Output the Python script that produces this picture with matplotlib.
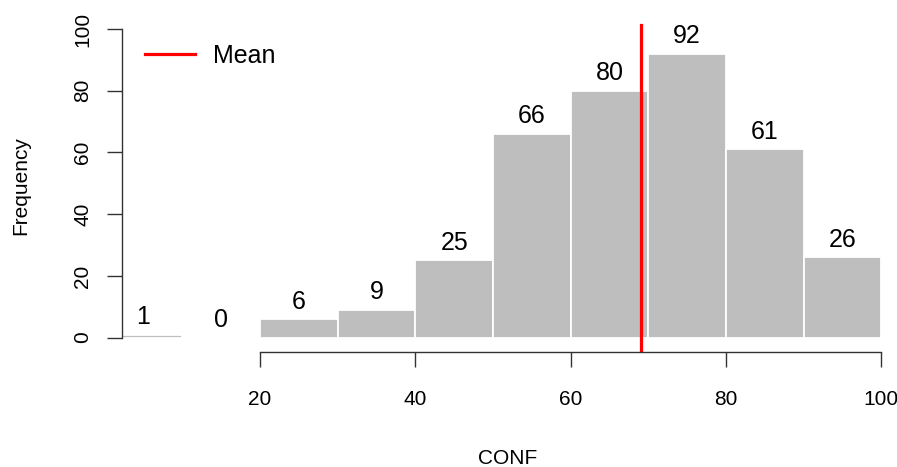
import matplotlib

matplotlib.use("Agg")
import matplotlib.pyplot as plt
import numpy as np

# histogram of CONF, bins of width 10
bin_edges = [0, 10, 20, 30, 40, 50, 60, 70, 80, 90, 100]
counts = [1, 0, 6, 9, 25, 66, 80, 92, 61, 26]
mean_conf = 69.0
x_ticks = [20, 40, 60, 80, 100]
y_ticks = [0, 20, 40, 60, 80, 100]

BAR = "#bebebe"
TEXT = "#000000"
AXIS = "#333333"


def main() -> None:
    plt.rcParams["font.family"] = ["Liberation Sans", "DejaVu Sans"]

    W, H = 897, 467
    fig = plt.figure(figsize=(W / 100, H / 100), dpi=100)
    # axes placed in pixel terms to follow the R plot region
    left, right, top, bottom = 122, 893, 20, 351.5
    ax = fig.add_axes(
        [left / W, (H - bottom) / H, (right - left) / W, (bottom - top) / H]
    )

    edges = np.array(bin_edges, dtype=float)
    widths = np.diff(edges)
    ax.bar(
        edges[:-1],
        counts,
        width=widths,
        align="edge",
        color=BAR,
        edgecolor="white",
        linewidth=1.3,
    )
    for x0, w, c in zip(edges[:-1], widths, counts):
        ax.annotate(
            str(c),
            (x0 + w / 2, c),
            xytext=(0, 4),
            textcoords="offset points",
            ha="center",
            va="bottom",
            fontsize=18,
            color=TEXT,
        )

    ax.set_xlim(2.23, 101.5)
    ax.set_ylim(-4.5, 102.9)

    ax.axvline(mean_conf, ymin=0, ymax=0.985, color="red", linewidth=2.3,
               label="Mean")

    for side in ("top", "right"):
        ax.spines[side].set_visible(False)
    ax.spines["left"].set_bounds(0, 100)
    ax.spines["bottom"].set_bounds(20, 100)
    for side in ("left", "bottom"):
        ax.spines[side].set_color(AXIS)
        ax.spines[side].set_linewidth(1.0)

    ax.set_xticks(x_ticks)
    ax.set_yticks(y_ticks)
    ax.set_yticklabels([str(v) for v in y_ticks], rotation=90, va="center")
    ax.tick_params(axis="both", direction="out", length=10.5, width=1.0,
                   color=AXIS, labelsize=15, labelcolor=TEXT)
    ax.tick_params(axis="x", pad=17)
    ax.tick_params(axis="y", pad=11)

    ax.set_xlabel("CONF", fontsize=15, labelpad=29)
    ax.set_ylabel("Frequency", fontsize=15, labelpad=31)

    ax.legend(
        loc="upper left",
        bbox_to_anchor=(0.0, 0.995),
        frameon=False,
        fontsize=18,
        handlelength=2.0,
        handletextpad=0.75,
        borderaxespad=0.5,
    )

    fig.savefig("out.png", dpi=100, facecolor="white")
    plt.close(fig)


if __name__ == "__main__":
    main()
